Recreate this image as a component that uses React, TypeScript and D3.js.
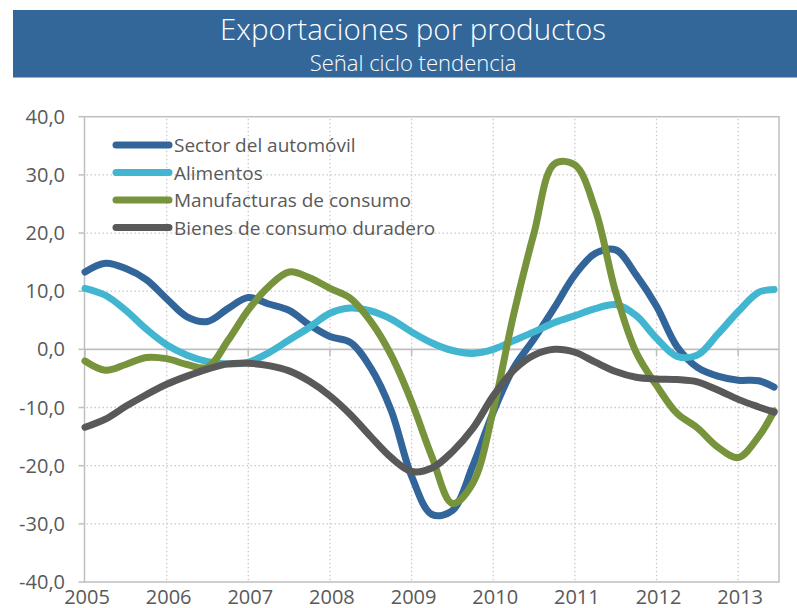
import React from "react";
import * as d3 from "d3";

const TITLE = "Exportaciones por productos";
const SUBTITLE = "Señal ciclo tendencia";

const periods = [
  2005.0, 2005.25, 2005.5, 2005.75,
  2006.0, 2006.25, 2006.5, 2006.75,
  2007.0, 2007.25, 2007.5, 2007.75,
  2008.0, 2008.25, 2008.5, 2008.75,
  2009.0, 2009.25, 2009.5, 2009.75,
  2010.0, 2010.25, 2010.5, 2010.75,
  2011.0, 2011.25, 2011.5, 2011.75,
  2012.0, 2012.25, 2012.5, 2012.75,
  2013.0, 2013.25, 2013.44,
];

const sectorAutomovil = [
  13.3, 14.8, 13.9, 12.0,
  8.7, 5.6, 4.8, 7.0,
  8.9, 7.8, 6.7, 4.2,
  2.2, 1.2, -3.2, -10.5,
  -21.8, -28.4, -27.7, -20.0,
  -10.8, -3.2, 1.8, 7.2,
  12.8, 16.5, 17.1, 12.8,
  7.4, 0.5, -3.1, -4.6,
  -5.3, -5.4, -6.5,
];

const alimentos = [
  10.5, 9.3, 6.7, 3.5,
  0.8, -1.0, -2.1, -2.5,
  -2.2, -0.6, 1.6, 3.8,
  6.2, 7.1, 6.6, 5.2,
  3.0, 1.1, -0.2, -0.7,
  0.0, 1.5, 3.0, 4.6,
  5.8, 7.0, 7.7, 5.8,
  1.9, -1.2, -1.0, 2.6,
  6.5, 9.8, 10.3,
];

const manufacturasConsumo = [
  -2.0, -3.6, -2.6, -1.4,
  -1.6, -2.6, -3.1, 1.5,
  6.8, 10.8, 13.3, 12.3,
  10.5, 8.8, 4.8, -1.0,
  -9.0, -18.5, -26.5, -23.0,
  -10.5, 6.0, 20.0, 31.9,
  31.7, 24.0, 9.8, -0.5,
  -6.2, -11.0, -13.5, -16.8,
  -18.6, -15.0, -10.6,
];

const bienesDuradero = [
  -13.4, -12.0, -9.8, -7.8,
  -6.0, -4.6, -3.4, -2.5,
  -2.4, -2.8, -3.7, -5.5,
  -8.0, -11.2, -15.0, -18.6,
  -21.0, -20.4, -17.6, -13.6,
  -8.0, -3.6, -1.0, 0.0,
  -0.5, -2.2, -3.8, -4.8,
  -5.1, -5.2, -5.6, -7.0,
  -8.6, -9.9, -10.8,
];

const seriesNames = [
  "Sector del automóvil",
  "Alimentos",
  "Manufacturas de consumo",
  "Bienes de consumo duradero",
];
const seriesValues = [sectorAutomovil, alimentos, manufacturasConsumo, bienesDuradero];
const seriesColors = ["#32659a", "#42b5d0", "#77933c", "#595959"];

const yTicks = [-40, -30, -20, -10, 0, 10, 20, 30, 40];
const xTicks = [2005, 2006, 2007, 2008, 2009, 2010, 2011, 2012, 2013];

const W = 797;
const H = 608;
const plot = { left: 84.5, right: 779, top: 116.7, bottom: 582 };
const FONT = "'Open Sans', 'Noto Sans', sans-serif";
const AXIS = "#bfbfbf";
const GRID = "#c9c9c9";
const TEXT = "#595959";

export default function App() {
  const x = d3.scaleLinear().domain([2005, 2013.5]).range([85, plot.right]);
  const y = d3.scaleLinear().domain([-40, 40]).range([plot.bottom, plot.top]);
  const line = d3
    .line<number>()
    .x((_, i) => x(periods[i]))
    .y((d) => y(d))
    .curve(d3.curveCatmullRom.alpha(0.5));

  const fmt = (v: number) => v.toFixed(1).replace(".", ",");

  return (
    <svg
      width={W}
      height={H}
      style={{ position: "absolute", left: 0, top: 0, background: "#fff" }}
      fontFamily={FONT}
    >
      {/* banner */}
      <rect x={13} y={10} width={W - 13} height={67.5} fill="#33679a" />
      <text x={413} y={40} textAnchor="middle" fill="#ffffff" fontSize={29.5} fontWeight={300}>
        {TITLE}
      </text>
      <text x={413} y={71} textAnchor="middle" fill="#ffffff" fontSize={22} fontWeight={300}>
        {SUBTITLE}
      </text>

      {/* horizontal grid */}
      {yTicks
        .filter((t) => t !== 0 && t !== 40 && t !== -40)
        .map((t) => (
          <line
            key={"hg" + t}
            x1={plot.left + 2}
            x2={plot.right}
            y1={y(t)}
            y2={y(t)}
            stroke={GRID}
            strokeWidth={1.3}
            strokeDasharray="1.5,2.5"
          />
        ))}
      {/* vertical grid */}
      {xTicks
        .filter((t) => t !== 2005)
        .map((t) => (
          <line
            key={"vg" + t}
            x1={x(t)}
            x2={x(t)}
            y1={plot.top + 2}
            y2={plot.bottom}
            stroke={GRID}
            strokeWidth={1.3}
            strokeDasharray="1.5,2.5"
          />
        ))}

      {/* frame */}
      <rect
        x={plot.left}
        y={plot.top}
        width={plot.right - plot.left}
        height={plot.bottom - plot.top}
        fill="none"
        stroke={AXIS}
        strokeWidth={1.5}
      />
      {/* y ticks */}
      {yTicks.map((t) => (
        <line key={"yt" + t} x1={plot.left - 6} x2={plot.left} y1={y(t)} y2={y(t)} stroke={AXIS} strokeWidth={1.5} />
      ))}
      {/* zero line with ticks */}
      <line x1={plot.left} x2={plot.right} y1={y(0)} y2={y(0)} stroke={AXIS} strokeWidth={1.8} />
      {xTicks.map((t) => (
        <line key={"xt" + t} x1={x(t)} x2={x(t)} y1={y(0)} y2={y(0) + 7} stroke={AXIS} strokeWidth={1.5} />
      ))}

      {/* y labels */}
      {yTicks.map((t) => (
        <text key={"yl" + t} x={65} y={y(t) + 7} textAnchor="end" fontSize={20} fill={TEXT}>
          {fmt(t)}
        </text>
      ))}
      {/* x labels */}
      {xTicks.map((t) => (
        <text key={"xl" + t} x={x(t) + 2} y={604} textAnchor="middle" fontSize={20} fill={TEXT}>
          {t}
        </text>
      ))}

      {/* series */}
      {seriesValues.map((vals, i) => (
        <path
          key={"s" + i}
          d={line(vals) || ""}
          fill="none"
          stroke={seriesColors[i]}
          strokeWidth={7}
          strokeLinecap="round"
          strokeLinejoin="round"
        />
      ))}

      {/* legend */}
      {seriesNames.map((name, i) => {
        const ly = 145 + i * 27.5;
        return (
          <g key={"lg" + i}>
            <line x1={116} x2={169} y1={ly} y2={ly} stroke={seriesColors[i]} strokeWidth={7} strokeLinecap="round" />
            <text x={174} y={ly + 7} fontSize={19} fill={TEXT}>
              {name}
            </text>
          </g>
        );
      })}
    </svg>
  );
}
